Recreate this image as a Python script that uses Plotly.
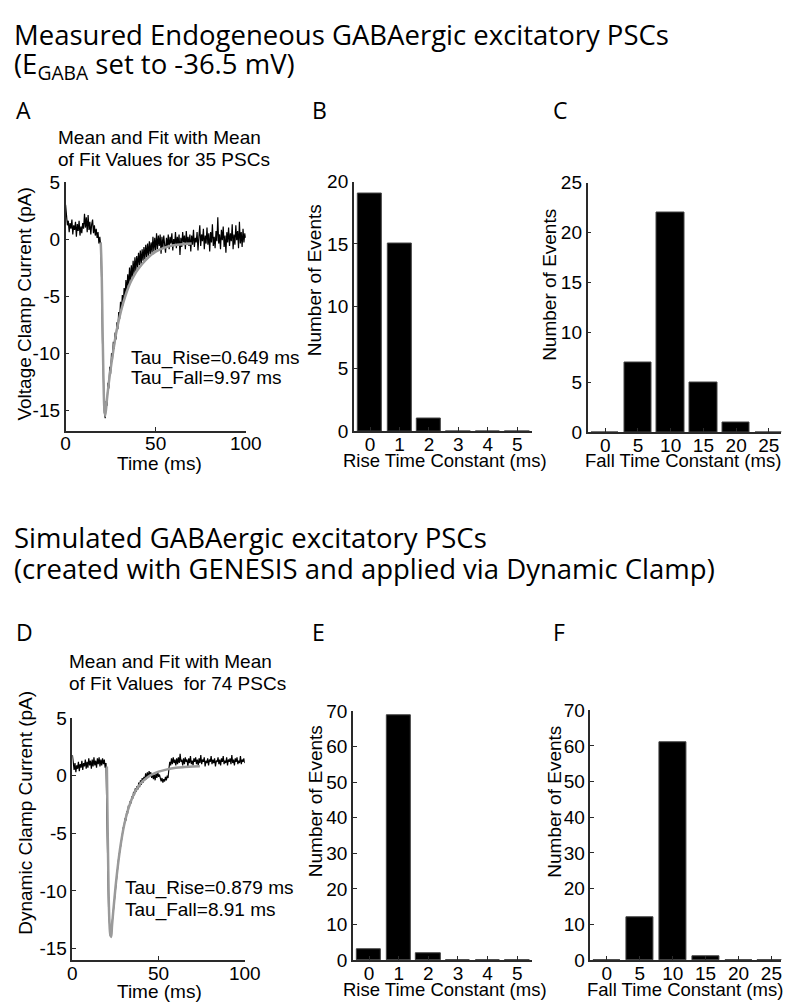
import plotly.graph_objects as go

# ---------------- data ----------------
TIME_STEP_MS = 0.5

# Panel A: measured mean PSC (pA), sampled every 0.5 ms from 0 to 100 ms
CURRENT_A = [
    3.0, 1.8, 1.2, 1.6, 0.6, 1.4, 0.9, 1.7, 0.4, 1.2,
    0.8, 1.5, 0.2, 1.3, 0.7, 1.6, 0.3, 1.1, 0.5, 1.4,
    0.9, 2.2, 1.0, 1.9, 0.6, 2.1, 0.8, 1.5, 0.4, 1.3,
    1.7, 0.5, 1.2, 0.3, 0.9, 0.1, 0.6, -0.4, 0.2, -0.6,
    -3.5, -9.0, -13.0, -15.2, -15.7, -14.2, -14.6, -12.6, -13.1, -11.2,
    -11.8, -10.0, -10.6, -9.0, -9.6, -8.2, -8.8, -7.3, -7.9, -6.4,
    -7.0, -5.5, -6.3, -4.9, -5.8, -4.3, -5.1, -3.6, -4.6, -3.1,
    -4.2, -2.5, -3.8, -2.3, -3.4, -1.9, -3.1, -1.6, -2.8, -1.5,
    -2.5, -1.2, -2.3, -1.0, -2.2, -0.9, -1.9, -0.7, -1.8, -0.5,
    -1.6, -0.4, -1.5, -0.2, -1.3, -0.3, -1.2, 0.2, -1.1, 0.1,
    -1.0, 0.5, -0.9, 0.3, -0.6, 0.4, -1.3, 0.2, -0.8, 0.3,
    -0.5, -1.2, 0.1, -0.7, 0.4, -0.9, 0.2, -0.4, 0.5, -1.0,
    0.0, -0.6, 0.6, -0.8, 0.2, -0.5, 0.4, -1.4, 0.1, -0.7,
    0.6, -0.3, 0.3, -0.9, 0.7, -0.4, 0.2, -0.6, 0.4, -1.1,
    0.3, -0.5, 0.8, -0.7, 0.1, -0.3, 0.6, -1.0, 0.2, 1.2,
    -0.6, 0.4, -0.2, 0.9, -0.9, 0.3, -0.4, 1.0, -0.5, 0.5,
    -1.1, 0.6, -0.3, 1.3, -0.6, 0.2, -0.8, 0.7, -0.2, 1.9,
    -0.4, 0.4, -0.9, 0.8, -0.1, 1.1, -0.7, 0.3, -1.2, 0.6,
    -0.3, 1.0, -0.6, 0.5, -0.2, 1.3, -0.9, 0.4, -0.5, 1.2,
    -0.1, 0.7, -0.8, 1.5, -0.4, 0.6, -0.7, 0.9, -0.3, 0.5,
    0.1,
]
FIT_A_T = [19.5, 20, 20.5, 21, 21.5, 22, 23, 24, 25, 26, 28, 30, 32, 34, 36, 38,
           40, 43, 46, 50, 55, 60, 65, 70]
FIT_A_I = [-0.3, -2.5, -7.5, -12.0, -14.8, -15.5, -14.0, -12.6, -11.4, -10.3, -8.3,
           -6.8, -5.6, -4.6, -3.8, -3.2, -2.7, -2.1, -1.6, -1.1, -0.75, -0.55, -0.45, -0.4]

# Panel D: simulated mean PSC (pA), sampled every 0.5 ms from 0 to 100 ms
CURRENT_D = [
    1.8, 1.3, 0.5, 1.1, 0.3, 0.9, 0.6, 1.2, 0.4, 1.0,
    0.7, 1.3, 0.5, 1.1, 0.8, 1.4, 0.6, 1.2, 0.7, 1.5,
    0.9, 1.3, 0.6, 1.4, 0.8, 1.6, 0.9, 1.3, 0.7, 1.5,
    1.0, 1.6, 0.8, 1.4, 0.9, 1.5, 1.0, 1.4, 0.7, 1.1,
    -2.0, -7.5, -11.5, -13.3, -13.9, -13.6, -12.8, -12.3, -11.2, -10.8,
    -9.6, -9.2, -8.1, -7.8, -6.9, -6.6, -5.9, -5.4, -5.1, -4.5,
    -4.4, -3.7, -3.9, -3.1, -3.3, -2.6, -2.8, -2.2, -2.4, -1.8,
    -2.0, -1.4, -1.7, -1.1, -1.4, -0.9, -1.2, -0.6, -1.0, -0.4,
    -0.8, -0.2, -0.6, -0.1, -0.4, 0.2, -0.3, 0.3, -0.2, 0.4,
    0.0, 0.3, -0.2, 0.2, -0.3, 0.1, -0.4, 0.2, -0.2, 0.3,
    -0.1, 0.1, -0.3, -0.5, -0.2, -0.6, -0.3, -0.5, -0.1, -0.4,
    0.0, -0.2, 0.6, 1.2, 0.9, 1.5, 1.0, 1.6, 1.1, 1.4,
    0.9, 1.5, 1.0, 1.6, 1.1, 1.9, 1.2, 1.4, 0.9, 1.5,
    1.0, 1.6, 1.2, 1.4, 0.8, 1.5, 1.1, 1.7, 1.0, 1.3,
    0.9, 1.5, 1.2, 1.6, 1.0, 1.4, 0.9, 1.5, 1.1, 1.8,
    1.0, 1.4, 1.2, 1.6, 0.8, 1.3, 1.1, 1.5, 0.9, 1.4,
    1.2, 1.7, 1.0, 1.4, 1.1, 1.5, 0.8, 1.3, 1.2, 1.6,
    1.0, 1.4, 0.9, 1.5, 1.2, 1.7, 1.0, 1.3, 1.1, 1.6,
    0.9, 1.4, 1.2, 1.5, 1.0, 1.8, 1.1, 1.4, 0.9, 1.5,
    1.2, 1.6, 1.0, 1.3, 1.1, 1.7, 1.0, 1.4, 1.2, 1.5,
    1.1,
]
FIT_D_T = [20, 20.5, 21, 21.5, 22, 22.5, 23, 24, 25, 26, 28, 30, 32, 34, 36, 38,
           40, 43, 46, 50, 55, 60, 65, 70, 74]
FIT_D_I = [0.8, -5.0, -10.0, -12.8, -13.8, -14.0, -13.0, -11.3, -9.7, -8.3, -6.0,
           -4.3, -3.1, -2.2, -1.5, -1.0, -0.6, -0.2, 0.1, 0.35, 0.55, 0.68, 0.75, 0.8, 0.82]

RISE_BINS = [0, 1, 2, 3, 4, 5]
FALL_BINS = [0, 5, 10, 15, 20, 25]
RISE_COUNTS_B = [19, 15, 1, 0, 0, 0]
FALL_COUNTS_C = [0, 7, 22, 5, 1, 0]
RISE_COUNTS_E = [3, 69, 2, 0, 0, 0]
FALL_COUNTS_F = [0, 12, 61, 1, 0, 0]

TRACE_TICKS_X = [0, 50, 100]
TRACE_TICKS_Y = [-15, -10, -5, 0, 5]
COUNT_TICKS_B = [0, 5, 10, 15, 20]
COUNT_TICKS_C = [0, 5, 10, 15, 20, 25]
COUNT_TICKS_EF = [0, 10, 20, 30, 40, 50, 60, 70]

TIME_A = [round(i * TIME_STEP_MS, 2) for i in range(len(CURRENT_A))]
TIME_D = [round(i * TIME_STEP_MS, 2) for i in range(len(CURRENT_D))]

# ---------------- layout helpers ----------------
FW, FH = 800, 1008
AX_FONT = "Liberation Sans, Arial, sans-serif"
HEAD_FONT = "Open Sans, Noto Sans, sans-serif"
TICK_SIZE = 19
AXCOL = "#2a2a2a"


def px_x(p):
    return p / FW


def px_y(p):
    return 1 - p / FH


def make_axis(a0, a1, rng, tickvals, anchor, is_y=False):
    dom = [px_y(a1), px_y(a0)] if is_y else [px_x(a0), px_x(a1)]
    ax = dict(
        domain=dom, range=rng, anchor=anchor, tickvals=tickvals,
        ticktext=[str(v) for v in tickvals],
        showline=True, linecolor=AXCOL, linewidth=1.5,
        ticks="inside", ticklen=4, tickcolor=AXCOL, tickwidth=1,
        showgrid=False, zeroline=False,
        tickfont=dict(family=AX_FONT, size=TICK_SIZE, color="black"),
    )
    if not is_y:
        ax["ticklabelstandoff"] = -5
    return ax


fig = go.Figure()

# Panel A
fig.add_trace(go.Scatter(x=TIME_A, y=CURRENT_A, mode="lines",
                         line=dict(color="black", width=1.2), xaxis="x", yaxis="y",
                         showlegend=False))
fig.add_trace(go.Scatter(x=FIT_A_T, y=FIT_A_I, mode="lines", line_shape="spline",
                         line=dict(color="#9a9a9a", width=2.5), xaxis="x", yaxis="y",
                         showlegend=False))
# Panel D
fig.add_trace(go.Scatter(x=TIME_D, y=CURRENT_D, mode="lines",
                         line=dict(color="black", width=1.2), xaxis="x4", yaxis="y4",
                         showlegend=False))
fig.add_trace(go.Scatter(x=FIT_D_T, y=FIT_D_I, mode="lines", line_shape="spline",
                         line=dict(color="#9a9a9a", width=2.5), xaxis="x4", yaxis="y4",
                         showlegend=False))

bar_style = dict(marker=dict(color="black", line=dict(color="#444", width=1)),
                 showlegend=False)
fig.add_trace(go.Bar(x=RISE_BINS, y=RISE_COUNTS_B, width=0.82, xaxis="x2", yaxis="y2", **bar_style))
fig.add_trace(go.Bar(x=FALL_BINS, y=FALL_COUNTS_C, width=4.2, xaxis="x3", yaxis="y3", **bar_style))
fig.add_trace(go.Bar(x=RISE_BINS, y=RISE_COUNTS_E, width=0.82, xaxis="x5", yaxis="y5", **bar_style))
fig.add_trace(go.Bar(x=FALL_BINS, y=FALL_COUNTS_F, width=4.1, xaxis="x6", yaxis="y6", **bar_style))

layout = dict(
    width=FW, height=FH, margin=dict(l=0, r=0, t=0, b=0),
    paper_bgcolor="white", plot_bgcolor="white", bargap=0,
    font=dict(family=AX_FONT, size=19, color="black"),
    showlegend=False,
)

# positions below are in window pixels
layout["xaxis"] = make_axis(54, 239, [0, 100], TRACE_TICKS_X, "y")
layout["yaxis"] = make_axis(167.4, 421.6, [-16.8, 5], TRACE_TICKS_Y, "x", True)
layout["xaxis2"] = make_axis(350, 533, [-0.55, 5.5], RISE_BINS, "y2")
layout["yaxis2"] = make_axis(167, 422, [0, 20], COUNT_TICKS_B, "x2", True)
layout["xaxis3"] = make_axis(590, 789, [-2.7, 26.9], FALL_BINS, "y3")
layout["yaxis3"] = make_axis(168, 423, [0, 25], COUNT_TICKS_C, "x3", True)
layout["xaxis4"] = make_axis(61, 238, [0, 100], TRACE_TICKS_X, "y4")
layout["yaxis4"] = make_axis(715, 962, [-16.0, 5], TRACE_TICKS_Y, "x4", True)
layout["xaxis5"] = make_axis(349, 533, [-0.55, 5.5], RISE_BINS, "y5")
layout["yaxis5"] = make_axis(708, 962, [0, 70], COUNT_TICKS_EF, "x5", True)
layout["xaxis6"] = make_axis(593, 789, [-2.5, 26.5], FALL_BINS, "y6")
layout["yaxis6"] = make_axis(707, 962, [0, 70], COUNT_TICKS_EF, "x6", True)

ann = []


def text(x, y, s, size=19, family=AX_FONT, xanchor="left", angle=0):
    ann.append(dict(x=max(px_x(x), 0), y=px_y(y), xref="paper", yref="paper", text=s,
                    showarrow=False, xanchor=xanchor, yanchor="middle", textangle=angle,
                    borderpad=0,
                    font=dict(family=family, size=size, color="black")))


# headings
text(0, 17, "Measured Endogeneous GABAergic excitatory PSCs", 27.5, HEAD_FONT)
text(0, 48, "(E<sub>GABA</sub> set to -36.5 mV)", 27.5, HEAD_FONT)
text(0, 531, "Simulated GABAergic excitatory PSCs", 27.5, HEAD_FONT)
text(0, 562, "(created with GENESIS and applied via Dynamic Clamp)", 27.5, HEAD_FONT)

# panel letters
for lx, ly, s in [(2, 94, "A"), (306, 94, "B"), (554, 94, "C"),
                  (2, 627, "D"), (306, 627, "E"), (554, 627, "F")]:
    text(lx, ly, s, 23, HEAD_FONT)

# subtitles
text(45, 122, "Mean and Fit with Mean", 19)
text(45, 145, "of Fit Values for 35 PSCs", 19)
text(56, 657, "Mean and Fit with Mean", 19)
text(56, 680, "of Fit Values  for 74 PSCs", 19)

# tau annotations
text(120, 347, "Tau_Rise=0.649 ms", 19)
text(120, 368, "Tau_Fall=9.97 ms", 19)
text(114, 888, "Tau_Rise=0.879 ms", 19)
text(114, 911, "Tau_Fall=8.91 ms", 19)

# axis titles
text(150, 455, "Time (ms)", 19, xanchor="center")
text(444, 452, "Rise Time Constant (ms)", 18.5, xanchor="center")
text(688, 452, "Fall Time Constant (ms)", 18.5, xanchor="center")
text(150, 994, "Time (ms)", 19, xanchor="center")
text(444, 992, "Rise Time Constant (ms)", 18.5, xanchor="center")
text(690, 992, "Fall Time Constant (ms)", 18.5, xanchor="center")

text(12, 292, "Voltage Clamp Current (pA)", 19, xanchor="center", angle=-90)
text(310, 268, "Number of Events", 19, xanchor="center", angle=-90)
text(551, 273, "Number of Events", 19, xanchor="center", angle=-90)
text(12, 812, "Dynamic Clamp Current (pA)", 19, xanchor="center", angle=-90)
text(310, 800, "Number of Events", 19, xanchor="center", angle=-90)
text(556, 800, "Number of Events", 19, xanchor="center", angle=-90)

layout["annotations"] = ann
fig.update_layout(**layout)
fig.write_html("out.html")
